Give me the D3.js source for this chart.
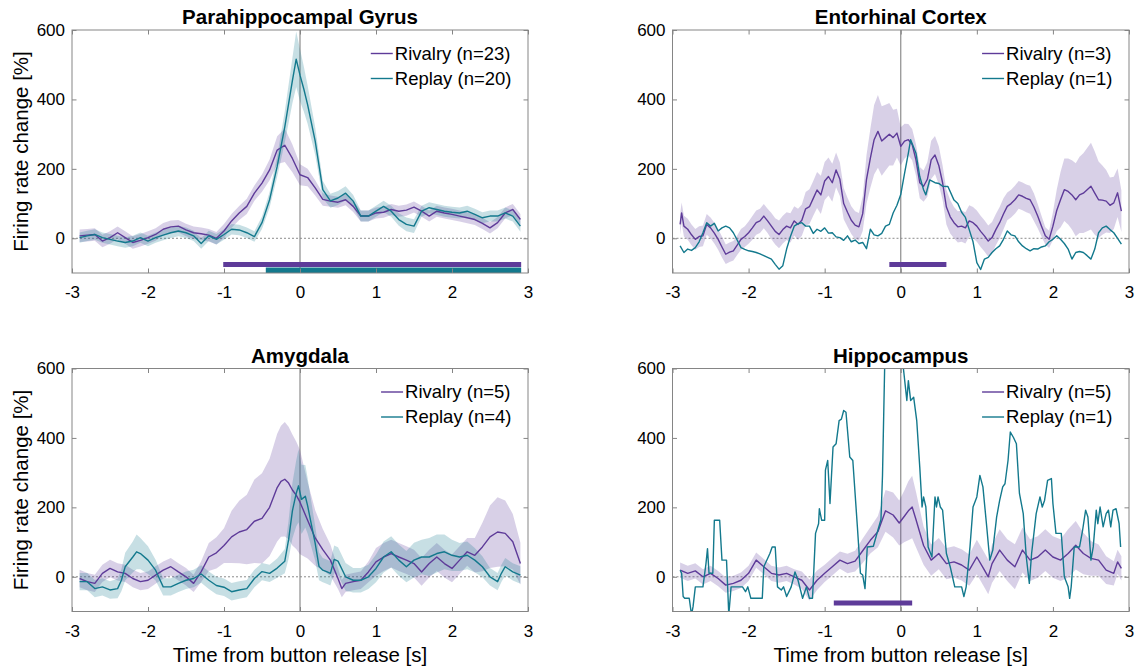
<!DOCTYPE html>
<html>
<head>
<meta charset="utf-8">
<script src="https://cdn.jsdelivr.net/npm/d3@7/dist/d3.min.js"></script>
<style>
  body { margin: 0; background: #fff; }
  text { font-family: "Liberation Sans", Arial, Helvetica, sans-serif; fill: #000; }
</style>
</head>
<body>
<svg id="chart" width="1140" height="667"></svg>
<script>
// Peri-event firing rate change, aligned to button release.
// Each series row: [time (s), mean change (%), s.e.m. (%)]

const xTicks = [-3, -2, -1, 0, 1, 2, 3];
const yTicks = [0, 200, 400, 600];

// Parahippocampal Gyrus
const phgRivalry = [
  [-2.9,7,18],[-2.8,9,18],[-2.7,11,18],[-2.6,-8,18],[-2.5,2,18],[-2.4,16,18],[-2.3,2,18],[-2.2,-12,18],
  [-2.1,-6,18],[-2.0,2,18],[-1.9,11,18],[-1.8,26,18],[-1.7,33,18],[-1.6,35,18],[-1.5,24,18],[-1.4,16,18],
  [-1.3,13,18],[-1.2,9,18],[-1.1,0,18],[-1.0,21,20],[-0.9,50,20],[-0.8,73,20],[-0.7,92,22],[-0.6,130,22],
  [-0.5,159,25],[-0.4,197,30],[-0.3,254,40],[-0.2,268,48],[-0.1,230,40],[0,183,30],[0.1,175,25],[0.2,145,22],
  [0.3,112,18],[0.4,107,16],[0.5,104,16],[0.6,111,16],[0.7,92,16],[0.8,64,16],[0.9,64,16],[1.0,73,16],
  [1.1,75,16],[1.2,83,16],[1.3,78,16],[1.4,81,16],[1.5,90,16],[1.6,78,16],[1.7,64,16],[1.8,78,16],
  [1.9,73,16],[2.0,69,16],[2.1,64,16],[2.2,59,16],[2.3,54,16],[2.4,43,16],[2.5,30,16],[2.6,45,16],
  [2.7,73,16],[2.8,83,16],[2.9,54,16]
];
const phgReplay = [
  [-2.9,2,15],[-2.8,7,15],[-2.7,11,15],[-2.6,2,15],[-2.5,-3,15],[-2.4,-8,15],[-2.3,-12,15],[-2.2,-8,15],
  [-2.1,2,15],[-2.0,-8,15],[-1.9,2,15],[-1.8,9,15],[-1.7,16,15],[-1.6,21,15],[-1.5,16,15],[-1.4,7,15],
  [-1.3,-15,15],[-1.2,7,15],[-1.1,-3,15],[-1.0,11,15],[-0.9,26,15],[-0.8,24,15],[-0.7,16,15],[-0.6,5,15],
  [-0.5,45,18],[-0.4,111,22],[-0.3,207,30],[-0.2,321,45],[-0.1,454,65],[-0.05,516,80],[0,470,75],[0.05,430,65],
  [0.1,385,55],[0.2,280,40],[0.3,140,25],[0.4,108,20],[0.5,116,20],[0.6,130,20],[0.7,107,18],[0.8,64,16],
  [0.9,64,16],[1.0,78,16],[1.1,92,16],[1.2,78,16],[1.3,54,18],[1.4,40,20],[1.5,35,20],[1.6,78,16],
  [1.7,88,16],[1.8,83,16],[1.9,78,16],[2.0,75,16],[2.1,73,16],[2.2,78,16],[2.3,69,16],[2.4,59,16],
  [2.5,64,16],[2.6,64,16],[2.7,73,16],[2.8,64,16],[2.9,35,16]
];

// Entorhinal Cortex
const ecRivalry = [
  [-2.9,40,30],[-2.88,73,30],[-2.85,35,30],[-2.8,26,30],[-2.75,10,30],[-2.7,-3,30],[-2.65,5,30],[-2.6,7,30],
  [-2.55,40,30],[-2.5,30,30],[-2.45,15,30],[-2.4,-3,30],[-2.35,-25,30],[-2.3,-46,28],[-2.25,-40,28],[-2.2,-36,28],
  [-2.15,-20,28],[-2.1,-3,30],[-2.05,5,30],[-2.0,16,32],[-1.95,30,34],[-1.9,45,35],[-1.85,50,35],[-1.8,64,35],
  [-1.75,50,35],[-1.7,35,38],[-1.65,20,38],[-1.6,11,40],[-1.55,25,40],[-1.5,35,40],[-1.45,30,42],[-1.4,50,42],
  [-1.35,40,45],[-1.3,52,45],[-1.25,85,48],[-1.2,91,50],[-1.15,115,50],[-1.1,139,52],[-1.05,125,55],[-1.0,165,55],
  [-0.95,178,55],[-0.9,160,55],[-0.85,197,50],[-0.8,170,48],[-0.75,100,45],[-0.7,75,42],[-0.65,52,40],[-0.6,38,40],
  [-0.55,33,40],[-0.5,71,50],[-0.45,170,70],[-0.4,230,85],[-0.35,284,100],[-0.3,308,105],[-0.25,280,100],[-0.2,290,95],
  [-0.15,300,90],[-0.1,290,80],[-0.05,303,70],[0,265,55],[0.05,280,50],[0.1,284,45],[0.15,270,45],[0.2,226,45],
  [0.25,160,45],[0.3,150,45],[0.35,170,50],[0.4,226,55],[0.45,240,55],[0.5,210,55],[0.55,160,50],[0.6,90,50],
  [0.65,62,48],[0.7,45,45],[0.75,33,45],[0.8,35,45],[0.85,30,45],[0.9,50,45],[0.95,45,45],[1.0,35,45],
  [1.05,20,45],[1.1,7,45],[1.15,-8,45],[1.2,2,45],[1.25,25,45],[1.3,45,45],[1.35,70,45],[1.4,92,40],
  [1.45,100,40],[1.5,111,40],[1.55,125,40],[1.6,121,40],[1.65,115,40],[1.7,111,40],[1.75,90,40],[1.8,64,35],
  [1.85,35,30],[1.9,7,25],[1.95,-3,25],[2.0,35,40],[2.05,80,60],[2.1,111,80],[2.15,140,90],[2.2,135,95],
  [2.25,125,100],[2.3,111,105],[2.35,125,110],[2.4,130,115],[2.45,140,120],[2.5,150,125],[2.55,130,120],[2.6,111,110],
  [2.65,110,100],[2.7,107,90],[2.75,95,80],[2.8,102,75],[2.85,131,70],[2.9,78,60]
];
const ecReplay = [
  [-2.9,-22,0],[-2.85,-41,0],[-2.8,-31,0],[-2.75,-35,0],[-2.7,-27,0],[-2.65,-10,0],[-2.6,16,0],[-2.55,45,0],
  [-2.5,35,0],[-2.45,43,0],[-2.4,21,0],[-2.35,30,0],[-2.3,35,0],[-2.25,30,0],[-2.2,16,0],[-2.15,-5,0],
  [-2.1,-27,0],[-2.05,-32,0],[-2.0,-36,0],[-1.95,-38,0],[-1.9,-41,0],[-1.85,-45,0],[-1.8,-50,0],[-1.75,-55,0],
  [-1.7,-60,0],[-1.65,-75,0],[-1.6,-89,0],[-1.55,-79,0],[-1.5,-31,0],[-1.45,5,0],[-1.4,35,0],[-1.35,42,0],
  [-1.3,45,0],[-1.25,35,0],[-1.2,35,0],[-1.15,14,0],[-1.1,26,0],[-1.05,20,0],[-1.0,30,0],[-0.95,15,0],
  [-0.9,16,0],[-0.85,4,0],[-0.8,2,0],[-0.75,-6,0],[-0.7,7,0],[-0.65,-10,0],[-0.6,-5,0],[-0.55,-15,0],
  [-0.5,-12,0],[-0.45,-30,0],[-0.4,26,0],[-0.35,10,0],[-0.3,7,0],[-0.25,14,0],[-0.2,35,0],[-0.15,40,0],
  [-0.1,73,0],[-0.05,95,0],[0,126,0],[0.05,187,0],[0.1,245,0],[0.13,284,0],[0.2,245,0],[0.25,178,0],
  [0.3,140,0],[0.33,125,0],[0.38,168,0],[0.45,160,0],[0.5,158,0],[0.55,150,0],[0.62,149,0],[0.7,110,0],
  [0.75,100,0],[0.8,75,0],[0.85,60,0],[0.9,25,0],[0.95,-10,0],[1.0,-70,0],[1.05,-90,0],[1.1,-60,0],
  [1.15,-55,0],[1.2,-41,0],[1.25,-30,0],[1.3,-22,0],[1.35,-3,0],[1.4,21,0],[1.45,10,0],[1.5,7,0],
  [1.55,-10,0],[1.6,-22,0],[1.65,-30,0],[1.7,-36,0],[1.75,-30,0],[1.8,-31,0],[1.85,-25,0],[1.9,-22,0],
  [1.95,-10,0],[2.0,-3,0],[2.05,7,0],[2.1,-3,0],[2.15,-15,0],[2.2,-31,0],[2.25,-60,0],[2.3,-41,0],
  [2.35,-38,0],[2.4,-41,0],[2.45,-50,0],[2.5,-60,0],[2.55,-31,0],[2.6,16,0],[2.65,30,0],[2.7,35,0],
  [2.75,25,0],[2.8,16,0],[2.85,0,0],[2.9,-17,0]
];

// Amygdala
const amyRivalry = [
  [-2.9,-5,25],[-2.8,-14,25],[-2.7,-19,25],[-2.6,10,25],[-2.5,24,25],[-2.4,14,25],[-2.3,10,25],[-2.2,-5,25],
  [-2.1,-14,25],[-2.0,-10,25],[-1.9,5,25],[-1.8,19,25],[-1.7,29,25],[-1.6,14,25],[-1.5,0,25],[-1.4,-19,25],
  [-1.3,15,30],[-1.2,57,40],[-1.1,69,45],[-1.0,90,50],[-0.9,115,75],[-0.8,129,90],[-0.7,136,100],[-0.6,160,120],
  [-0.5,168,130],[-0.4,200,140],[-0.3,257,155],[-0.25,275,160],[-0.2,281,165],[-0.15,270,162],[-0.1,250,160],[-0.05,235,155],
  [0,215,150],[0.1,163,110],[0.2,112,80],[0.3,78,60],[0.4,48,45],[0.5,-5,30],[0.55,-34,25],[0.6,-19,25],
  [0.7,-14,25],[0.8,-10,25],[0.9,14,30],[1.0,43,40],[1.1,57,40],[1.2,67,40],[1.3,57,40],[1.4,48,40],
  [1.5,38,40],[1.6,14,40],[1.7,38,40],[1.8,57,40],[1.9,38,40],[2.0,24,40],[2.1,48,40],[2.2,72,40],
  [2.3,62,50],[2.4,86,70],[2.5,115,90],[2.6,129,100],[2.7,125,95],[2.8,101,80],[2.9,38,60]
];
const amyReplay = [
  [-2.9,-14,25],[-2.8,-14,25],[-2.7,-34,25],[-2.6,-29,25],[-2.5,-38,25],[-2.4,-34,28],[-2.35,-10,32],[-2.3,29,40],
  [-2.2,57,45],[-2.15,72,50],[-2.1,67,45],[-2.0,48,40],[-1.9,19,30],[-1.8,-29,25],[-1.7,-29,25],[-1.6,-19,25],
  [-1.5,-10,25],[-1.4,-5,25],[-1.3,8,25],[-1.2,-10,25],[-1.1,-25,25],[-1.0,-30,25],[-0.9,-43,25],[-0.8,-38,25],
  [-0.7,-34,25],[-0.6,-5,25],[-0.5,15,25],[-0.4,10,25],[-0.3,25,28],[-0.2,45,35],[-0.15,107,55],[-0.1,190,80],
  [-0.05,240,95],[-0.02,262,105],[0.02,223,100],[0.07,232,90],[0.1,205,80],[0.15,150,65],[0.2,96,50],[0.25,30,40],
  [0.3,19,35],[0.35,15,35],[0.4,10,35],[0.45,50,40],[0.5,45,40],[0.6,0,40],[0.7,-10,35],[0.8,-10,35],
  [0.9,0,35],[1.0,24,40],[1.1,57,45],[1.2,72,45],[1.3,48,45],[1.4,29,45],[1.5,48,50],[1.6,57,50],
  [1.7,57,55],[1.8,67,55],[1.9,72,50],[2.0,62,45],[2.1,57,40],[2.2,62,40],[2.3,48,35],[2.4,29,30],
  [2.5,0,25],[2.6,-14,25],[2.65,10,25],[2.7,29,25],[2.8,14,25],[2.9,5,25]
];

// Hippocampus
const hcRivalry = [
  [-2.9,19,22],[-2.8,10,22],[-2.7,17,22],[-2.6,0,22],[-2.5,10,22],[-2.4,-5,22],[-2.3,-24,22],[-2.2,-19,22],
  [-2.1,-10,22],[-2.0,10,22],[-1.9,48,22],[-1.8,29,22],[-1.7,10,22],[-1.6,5,22],[-1.5,10,22],[-1.4,0,22],
  [-1.3,-10,25],[-1.2,-38,30],[-1.1,-10,28],[-1.0,10,25],[-0.9,29,25],[-0.8,48,25],[-0.7,38,28],[-0.6,45,30],
  [-0.5,75,35],[-0.4,105,38],[-0.3,130,45],[-0.2,190,60],[-0.1,178,65],[-0.02,155,65],[0.05,175,75],[0.1,190,85],
  [0.15,201,90],[0.2,165,80],[0.3,90,55],[0.4,48,45],[0.5,67,45],[0.6,38,45],[0.7,43,45],[0.8,34,45],
  [0.9,19,45],[1.0,57,50],[1.1,19,50],[1.15,0,50],[1.2,38,55],[1.3,77,60],[1.4,48,60],[1.5,29,65],
  [1.6,77,65],[1.7,48,60],[1.8,57,60],[1.9,77,60],[2.0,57,60],[2.1,48,60],[2.2,67,70],[2.3,91,70],
  [2.4,67,60],[2.5,53,50],[2.6,48,45],[2.7,19,40],[2.8,10,35],[2.85,43,35],[2.9,24,35]
];
const hcReplay = [
  [-2.9,19,0],[-2.88,10,0],[-2.86,-57,0],[-2.84,-62,0],[-2.78,-62,0],[-2.75,-110,0],[-2.73,-86,0],[-2.7,-29,0],
  [-2.6,-29,0],[-2.56,38,0],[-2.54,81,0],[-2.52,10,0],[-2.47,10,0],[-2.45,163,0],[-2.38,163,0],[-2.35,48,0],
  [-2.29,48,0],[-2.26,-110,0],[-2.23,-29,0],[-2.08,-29,0],[-2.04,-43,0],[-2.01,-29,0],[-1.97,-62,0],[-1.82,-62,0],
  [-1.8,29,0],[-1.72,67,0],[-1.69,86,0],[-1.65,86,0],[-1.62,-29,0],[-1.57,-38,0],[-1.54,-29,0],[-1.5,-57,0],
  [-1.44,-29,0],[-1.39,14,0],[-1.35,-10,0],[-1.29,-62,0],[-1.24,-29,0],[-1.2,-62,0],[-1.16,-62,0],[-1.12,125,0],
  [-1.08,153,0],[-1.07,196,0],[-1.04,163,0],[-1.0,163,0],[-0.99,307,0],[-0.96,335,0],[-0.93,211,0],[-0.89,374,0],
  [-0.85,383,0],[-0.81,450,0],[-0.78,454,0],[-0.75,479,0],[-0.72,474,0],[-0.67,345,0],[-0.63,335,0],[-0.57,144,0],
  [-0.53,10,0],[-0.5,5,0],[-0.47,-34,0],[-0.44,86,0],[-0.36,88,0],[-0.31,127,0],[-0.26,165,0],[-0.24,291,0],
  [-0.21,620,0],[-0.19,720,0],[0.01,720,0],[0.035,600,0],[0.08,508,0],[0.1,565,0],[0.13,508,0],[0.17,517,0],
  [0.21,450,0],[0.25,316,0],[0.28,201,0],[0.3,230,0],[0.33,201,0],[0.36,86,0],[0.41,57,0],[0.45,230,0],
  [0.47,201,0],[0.49,230,0],[0.52,201,0],[0.55,192,0],[0.6,67,0],[0.65,29,0],[0.67,10,0],[0.71,-29,0],
  [0.8,-29,0],[0.83,-57,0],[0.86,-29,0],[0.91,86,0],[0.95,201,0],[1.0,230,0],[1.04,292,0],[1.08,259,0],
  [1.13,144,0],[1.17,48,0],[1.21,77,0],[1.26,172,0],[1.3,220,0],[1.34,259,0],[1.37,268,0],[1.41,335,0],
  [1.44,417,0],[1.48,402,0],[1.52,383,0],[1.56,240,0],[1.61,182,0],[1.65,57,0],[1.69,-19,0],[1.72,67,0],
  [1.78,182,0],[1.83,230,0],[1.86,201,0],[1.89,220,0],[1.93,278,0],[1.98,283,0],[2.0,211,0],[2.04,125,0],
  [2.11,125,0],[2.15,0,0],[2.2,-29,0],[2.22,-62,0],[2.24,-29,0],[2.28,86,0],[2.35,86,0],[2.39,134,0],
  [2.43,192,0],[2.46,172,0],[2.5,48,0],[2.53,86,0],[2.57,192,0],[2.59,153,0],[2.62,201,0],[2.66,144,0],
  [2.7,182,0],[2.73,192,0],[2.76,144,0],[2.79,192,0],[2.83,196,0],[2.87,153,0],[2.89,86,0]
];

// Significant intervals [start, end] in seconds
const phgSigRivalry = [[-1.01, 2.91]];
const phgSigReplay = [[-0.45, 2.91]];
const ecSigRivalry = [[-0.15, 0.6]];
const hcSigRivalry = [[-0.88, 0.15]];

const regionNames = ["Parahippocampal Gyrus", "Entorhinal Cortex", "Amygdala", "Hippocampus"];
const conditionNames = ["Rivalry", "Replay"];
const unitCounts = [[23, 20], [3, 1], [5, 4], [5, 1]];

// ---- drawing ----
const purple = "#5e3b99";
const teal = "#13798d";
const boxColor = "#858585";

const svg = d3.select("#chart");

const layout = [
  { x0: 72,    x1: 528,  y0: 30,    y1: 273   },
  { x0: 672.5, x1: 1129, y0: 30,    y1: 273   },
  { x0: 72,    x1: 528,  y0: 368.5, y1: 611.5 },
  { x0: 672.5, x1: 1129, y0: 368.5, y1: 611.5 }
];

const panelSeries = [
  [phgRivalry, phgReplay],
  [ecRivalry, ecReplay],
  [amyRivalry, amyReplay],
  [hcRivalry, hcReplay]
];
const panelSig = [
  [phgSigRivalry, phgSigReplay],
  [ecSigRivalry, []],
  [[], []],
  [hcSigRivalry, []]
];
const colors = [purple, teal];

layout.forEach((L, i) => {
  const g = svg.append("g");
  const x = d3.scaleLinear().domain([-3, 3]).range([L.x0, L.x1]);
  const y = d3.scaleLinear().domain([-100, 600]).range([L.y1, L.y0]);

  const clipId = "clip" + i;
  svg.append("clipPath").attr("id", clipId)
    .append("rect").attr("x", L.x0).attr("y", L.y0)
    .attr("width", L.x1 - L.x0).attr("height", L.y1 - L.y0);

  const plot = g.append("g").attr("clip-path", `url(#${clipId})`);

  // reference lines
  plot.append("line")
    .attr("x1", L.x0).attr("x2", L.x1).attr("y1", y(0)).attr("y2", y(0))
    .attr("stroke", "#8c8c8c").attr("stroke-width", 1).attr("stroke-dasharray", "2,2");
  plot.append("line")
    .attr("x1", x(0)).attr("x2", x(0)).attr("y1", L.y0).attr("y2", L.y1)
    .attr("stroke", "#8c8c8c").attr("stroke-width", 1.2);

  const series = panelSeries[i];
  const area = d3.area()
    .x(d => x(d[0]))
    .y0(d => y(d[1] - d[2]))
    .y1(d => y(d[1] + d[2]));
  const line = d3.line().x(d => x(d[0])).y(d => y(d[1]));

  // error bands (only where there is more than one unit)
  series.forEach((s, k) => {
    if (unitCounts[i][k] > 1) {
      plot.append("path").datum(s).attr("d", area)
        .attr("fill", colors[k]).attr("fill-opacity", 0.24).attr("stroke", "none");
    }
  });
  // mean traces
  series.forEach((s, k) => {
    plot.append("path").datum(s).attr("d", line)
      .attr("fill", "none").attr("stroke", colors[k])
      .attr("stroke-width", 1.4).attr("stroke-linejoin", "round");
  });

  // significance bars along the bottom of the axes
  panelSig[i].forEach((intervals, k) => {
    const top = k === 0 ? L.y1 - 11 : L.y1 - 5.5;
    const h = k === 0 ? 5 : 5.5;
    g.selectAll(null).data(intervals).enter().append("rect")
      .attr("x", d => x(d[0])).attr("width", d => x(d[1]) - x(d[0]))
      .attr("y", top).attr("height", h)
      .attr("fill", colors[k]);
  });

  // axes with inward ticks on all four sides
  const tick = 4.5;
  const axL = g.append("g").attr("transform", `translate(${L.x0},0)`)
    .call(d3.axisLeft(y).tickValues(yTicks).tickSizeInner(-tick).tickSizeOuter(0).tickPadding(7));
  const axB = g.append("g").attr("transform", `translate(0,${L.y1})`)
    .call(d3.axisBottom(x).tickValues(xTicks).tickSizeInner(-tick).tickSizeOuter(0).tickPadding(13)
      .tickFormat(d => String(d)));
  const axR = g.append("g").attr("transform", `translate(${L.x1},0)`)
    .call(d3.axisRight(y).tickValues(yTicks).tickSizeInner(-tick).tickSizeOuter(0).tickFormat(""));
  const axT = g.append("g").attr("transform", `translate(0,${L.y0})`)
    .call(d3.axisTop(x).tickValues(xTicks).tickSizeInner(-tick).tickSizeOuter(0).tickFormat(""));
  [axL, axB, axR, axT].forEach(a => {
    a.select(".domain").remove();
    a.selectAll(".tick line").attr("stroke", boxColor);
    a.selectAll(".tick text").attr("font-size", 17)
      .attr("font-family", '"Liberation Sans", Arial, sans-serif').attr("fill", "#000");
  });
  g.append("rect")
    .attr("x", L.x0).attr("y", L.y0)
    .attr("width", L.x1 - L.x0).attr("height", L.y1 - L.y0)
    .attr("fill", "none").attr("stroke", boxColor).attr("stroke-width", 1);

  // title
  g.append("text")
    .attr("x", (L.x0 + L.x1) / 2).attr("y", L.y0 - 6)
    .attr("text-anchor", "middle").attr("font-size", 20.5).attr("font-weight", "bold")
    .text(regionNames[i]);

  // legend, right-aligned inside the axes
  const legend = g.append("g");
  const labels = conditionNames.map((c, k) => `${c} (n=${unitCounts[i][k]})`);
  const texts = labels.map((lab, k) =>
    legend.append("text").attr("y", L.y0 + 29.5 + 25 * k)
      .attr("font-size", 18.5).text(lab));
  const maxW = d3.max(texts, t => t.node().getComputedTextLength());
  const textX = L.x1 - 16.5 - maxW;
  texts.forEach((t, k) => {
    t.attr("x", textX);
    legend.append("line")
      .attr("x1", textX - 24).attr("x2", textX - 2)
      .attr("y1", L.y0 + 23.5 + 25 * k).attr("y2", L.y0 + 23.5 + 25 * k)
      .attr("stroke", colors[k]).attr("stroke-width", 1.4);
  });

  // axis labels
  if (i % 2 === 0) {
    g.append("text")
      .attr("transform", `translate(28,${(L.y0 + L.y1) / 2}) rotate(-90)`)
      .attr("text-anchor", "middle").attr("font-size", 20.5)
      .text("Firing rate change [%]");
  }
  if (i >= 2) {
    g.append("text")
      .attr("x", (L.x0 + L.x1) / 2).attr("y", 662)
      .attr("text-anchor", "middle").attr("font-size", 20.5)
      .text("Time from button release [s]");
  }
});
</script>
</body>
</html>
